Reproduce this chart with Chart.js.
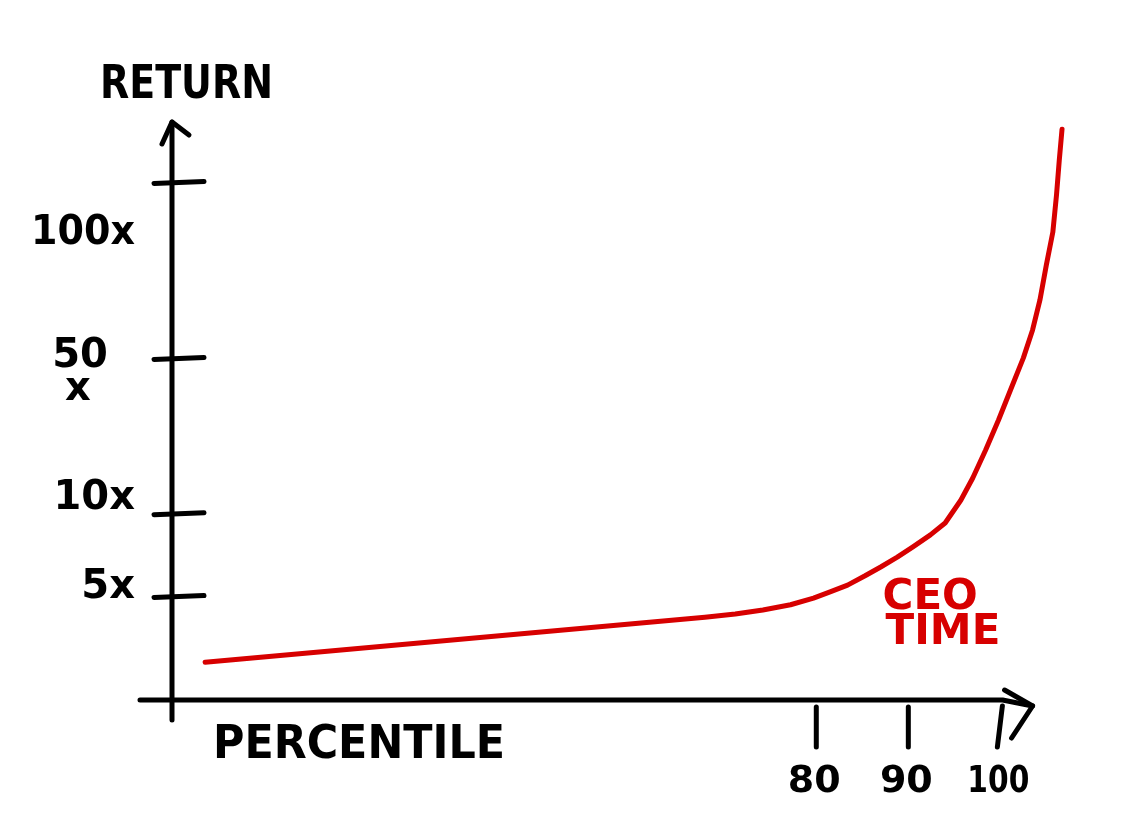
<!DOCTYPE html>
<html>
<head>
<meta charset="utf-8">
<title>Return by percentile</title>
<script src="https://cdn.jsdelivr.net/npm/chart.js@4.4.1/dist/chart.umd.min.js"></script>
<style>
  html, body { margin: 0; padding: 0; background: #fff; }
  canvas { display: block; }
</style>
</head>
<body>
<canvas id="return-chart" width="1132" height="836"></canvas>
<script>
// values (y is the sketch's own "return level", not to scale)
const percentile = [13.6, 67.9, 71.2, 74.2, 77.2, 79.7, 81.5, 83.4, 85.3, 87.0, 88.8, 90.5, 92.4, 94.0,
  95.7, 97.0, 98.4, 99.8, 101.1, 102.5, 103.5, 104.3, 105.0, 105.7, 106.1, 106.4, 106.7];
const returnLevel = [7.3, 16.0, 16.6, 17.4, 18.4, 19.7, 20.9, 22.2, 24.0, 25.7, 27.6, 29.6, 31.9, 34.2,
  38.6, 42.9, 48.3, 54.1, 59.9, 66.1, 71.5, 77.3, 84.1, 90.4, 97.6, 104.3, 110.3];

const xTickValues = [80, 90, 100];
const xTickLabels = ['80', '90', '100'];
const yTickValues = [20, 36, 66, 100];
const yTickLabels = ['5x', '10x', ['50', 'x'], '100x'];

const xTitle = 'PERCENTILE';
const yTitle = 'RETURN';
const note = ['CEO', 'TIME'];

const RED = '#d70000';
const FONT = "'DejaVu Sans', sans-serif";

// draws the hand-sketched axes, ticks and words on top of the library scales
const sketchAxes = {
  id: 'sketchAxes',
  beforeDatasetsDraw(chart) {
    const { ctx, scales: { x, y } } = chart;
    const ox = x.getPixelForValue(x.min);
    const oy = y.getPixelForValue(0);
    const top = y.getPixelForValue(y.max) + 12;
    const xEnd = x.getPixelForValue(103.5);

    const line = (pts) => {
      ctx.beginPath();
      ctx.moveTo(pts[0][0], pts[0][1]);
      for (let i = 1; i < pts.length; i++) ctx.lineTo(pts[i][0], pts[i][1]);
      ctx.stroke();
    };

    ctx.save();
    ctx.strokeStyle = '#000';
    ctx.fillStyle = '#000';
    ctx.lineWidth = 5;
    ctx.lineCap = 'round';
    ctx.lineJoin = 'round';

    // y axis with arrow
    line([[ox, oy + 20], [ox, top]]);
    line([[ox - 10, top + 22], [ox, top], [ox + 17, top + 13]]);

    // x axis with arrow
    line([[ox - 32, oy], [xEnd - 30, oy], [xEnd, oy + 6]]);
    line([[xEnd - 28, oy - 10], [xEnd, oy + 6], [xEnd - 21, oy + 38]]);

    // y ticks + labels
    const labelNudge = [-9, -15, -2, 51];
    ctx.font = 'bold 40px ' + FONT;
    ctx.textBaseline = 'middle';
    yTickValues.forEach((v, i) => {
      const py = y.getPixelForValue(v);
      line([[ox - 18, py + 1], [ox + 32, py - 1]]);
      const lab = yTickLabels[i];
      if (Array.isArray(lab)) {
        ctx.textAlign = 'center';
        ctx.fillText(lab[0], ox - 92, py + labelNudge[i]);
        ctx.fillText(lab[1], ox - 94, py + labelNudge[i] + 33);
      } else {
        ctx.textAlign = 'right';
        ctx.fillText(lab, ox - 37, py + labelNudge[i], 104);
      }
    });

    // x ticks + labels
    ctx.textAlign = 'center';
    ctx.textBaseline = 'alphabetic';
    ctx.font = 'bold 38px ' + FONT;
    xTickValues.forEach((v, i) => {
      const px = x.getPixelForValue(v);
      if (i === xTickValues.length - 1) {
        line([[px + 2, oy + 6], [px - 3, oy + 47]]);
      } else {
        line([[px, oy + 7], [px, oy + 47]]);
      }
      ctx.fillText(xTickLabels[i], px - 2, oy + 92, 62);
    });

    // axis words
    ctx.textAlign = 'left';
    ctx.font = 'bold 46px ' + FONT;
    ctx.fillText(yTitle, ox - 72, top - 24, 173);
    ctx.fillText(xTitle, ox + 41, oy + 58, 292);

    // annotation next to the curve
    ctx.fillStyle = RED;
    ctx.font = 'bold 42px ' + FONT;
    const nx = x.getPixelForValue(87.2);
    const ny = y.getPixelForValue(17.6);
    ctx.fillText(note[0], nx, ny, 100);
    ctx.fillText(note[1], nx + 3, ny + 35, 120);

    ctx.restore();
  }
};

const ctx = document.getElementById('return-chart').getContext('2d');
const returnChart = new Chart(ctx, {
  type: 'line',
  data: {
    datasets: [{
      data: percentile.map((p, i) => ({ x: p, y: returnLevel[i] })),
      borderColor: RED,
      borderWidth: 5,
      pointRadius: 0,
      tension: 0,
      fill: false,
      clip: false
    }]
  },
  options: {
    responsive: false,
    animation: false,
    layout: {
      padding: { left: 172, right: 58, top: 110, bottom: 136 }
    },
    scales: {
      x: {
        type: 'linear',
        min: 10,
        max: 108,
        display: false
      },
      y: {
        type: 'linear',
        min: 0,
        max: 114,
        display: false
      }
    },
    plugins: {
      legend: { display: false },
      tooltip: { enabled: false }
    },
    elements: {
      line: { borderCapStyle: 'round', borderJoinStyle: 'round' }
    }
  },
  plugins: [sketchAxes]
});
</script>
</body>
</html>
